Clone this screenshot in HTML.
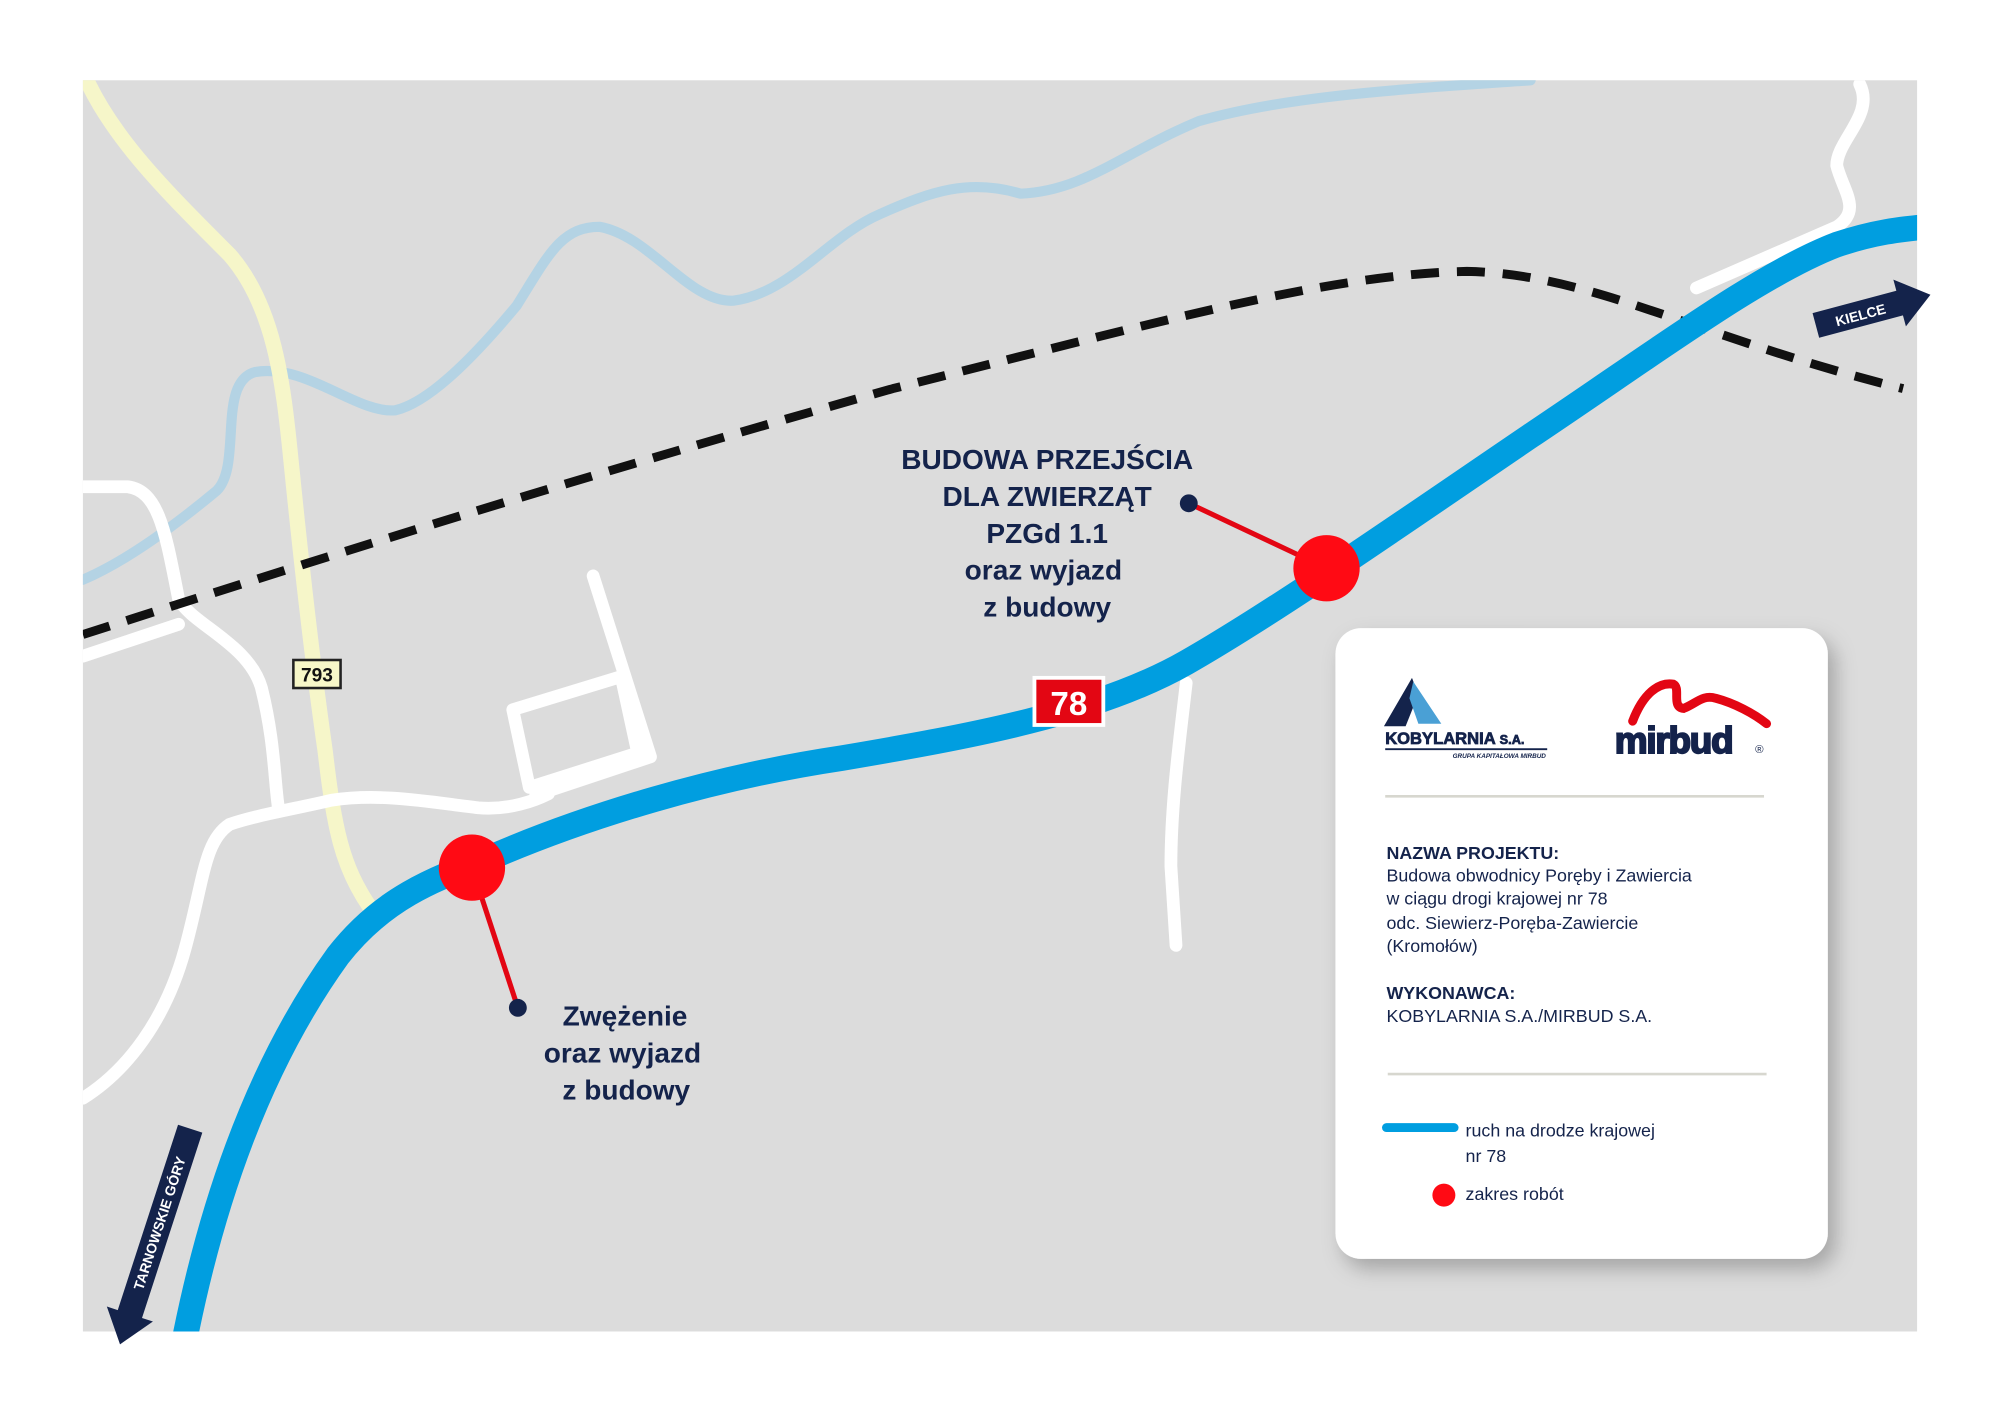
<!DOCTYPE html>
<html><head><meta charset="utf-8"><style>
html,body{margin:0;padding:0;background:#fff}
svg{display:block}
text{font-family:"Liberation Sans",sans-serif}
</style></head><body>
<svg width="2000" height="1413" viewBox="0 0 1568 1109" preserveAspectRatio="none" xmlns="http://www.w3.org/2000/svg">
<defs>
<filter id="sh" x="-10%" y="-10%" width="130%" height="130%"><feDropShadow dx="6" dy="8" stdDeviation="8" flood-color="#000" flood-opacity="0.25"/></filter>
<clipPath id="mc"><rect x="65" y="63" width="1438" height="982"/></clipPath>
</defs>
<rect width="1568" height="1109" fill="#fff"/>
<rect x="65" y="63" width="1438" height="982" fill="#dcdcdc"/>
<g clip-path="url(#mc)" fill="none" stroke-linecap="round" stroke-linejoin="round">
<path d="M65,455 C100,440 140,410 170,385 C190,365 170,300 200,292 C240,285 280,325 310,322 C340,315 380,270 405,240 C430,200 440,178 470,178 C510,185 540,238 575,236 C620,230 650,185 690,168 C730,150 760,140 800,152 C850,150 880,120 940,95 C1010,75 1100,70 1200,63" stroke="#b4d3e4" stroke-width="8"/>
<path d="M68,63 C90,110 130,150 180,200 C215,240 222,300 228,360 C235,430 245,520 255,590 C262,650 268,680 290,712" stroke="#f6f6c9" stroke-width="12"/>
<g stroke="#fff" stroke-width="10">
<path d="M65,382 L100,382 C125,385 130,420 140,470 C150,490 195,505 205,540 C215,580 215,610 218,632"/>
<path d="M65,515 L140,490"/>
<path d="M65,862 C100,840 130,800 145,745 C160,690 160,660 180,647 C200,640 230,635 260,628 C300,622 340,630 375,634 C400,636 420,628 430,623"/>
<path d="M465,452 L510,594 L420,624"/>
<path d="M402,557 L487,531 L500,591 L415,618 Z"/>
<path d="M930,536 C925,580 918,630 918,680 L922,742"/>
<path d="M1458,66 C1470,90 1440,110 1440,130 C1445,150 1460,165 1440,178 L1330,226"/>
</g>
<path d="M65,498 C200,455 400,390 700,305 C900,255 1040,215 1150,213 C1250,215 1330,265 1492,305" stroke="#111" stroke-width="7" stroke-dasharray="22 14" stroke-linecap="butt"/>
<path d="M145,1050 C165,950 200,840 265,750 C300,705 340,690 380,675 C460,640 560,610 660,595 C760,578 860,560 930,520 C1000,480 1100,410 1200,342 C1300,275 1380,215 1440,192 C1470,182 1490,180 1510,178" stroke="#009ee0" stroke-width="20"/>
</g>
<!-- arrows -->
<g transform="translate(1470,243) rotate(-15)"><polygon points="-48,-10 20,-10 20,-19 45,0 20,19 20,10 -48,10" fill="#14234b"/><text x="-12" y="5" font-size="11" font-weight="bold" fill="#fff" text-anchor="middle">KIELCE</text></g>
<g transform="translate(125,960) rotate(-72)"><polygon points="-75,-10 78,-10 78,10 -75,10 -75,19 -100,0 -75,-19" fill="#14234b"/><text x="0" y="4" font-size="11" font-weight="bold" fill="#fff" text-anchor="middle">TARNOWSKIE GÓRY</text></g>
<!-- signs -->
<rect x="230" y="518" width="37" height="22" fill="#f7f7c8" stroke="#222" stroke-width="2"/>
<text x="248.5" y="535" font-size="15" font-weight="bold" text-anchor="middle" fill="#111">793</text>
<rect x="811" y="532" width="54" height="37" fill="#e30613" stroke="#fff" stroke-width="3"/>
<text x="838" y="561" font-size="26" font-weight="bold" text-anchor="middle" fill="#fff">78</text>
<!-- markers -->
<line x1="370" y1="681" x2="406" y2="791" stroke="#e30613" stroke-width="4"/>
<line x1="1040" y1="446" x2="932" y2="395" stroke="#e30613" stroke-width="4"/>
<circle cx="370" cy="681" r="26" fill="#ff0a14"/>
<circle cx="1040" cy="446" r="26" fill="#ff0a14"/>
<circle cx="406" cy="791" r="7" fill="#14234b"/>
<circle cx="932" cy="395" r="7" fill="#14234b"/>
<g font-size="22" font-weight="bold" fill="#14234b" text-anchor="middle">
<text x="821" y="368">BUDOWA PRZEJŚCIA</text>
<text x="821" y="397">DLA ZWIERZĄT</text>
<text x="821" y="426">PZGd 1.1</text>
<text x="818" y="455">oraz wyjazd</text>
<text x="821" y="484">z budowy</text>
<text x="490" y="805">Zwężenie</text>
<text x="488" y="834">oraz wyjazd</text>
<text x="491" y="863">z budowy</text>
</g>
<!-- legend -->
<rect x="1047" y="493" width="386" height="495" rx="20" fill="#fff" filter="url(#sh)"/>
<polygon points="1085,570 1107,532 1112,545 1102,570" fill="#14234b"/>
<polygon points="1108,535 1130,568 1112,568 1105,548" fill="#4aa0d5"/>
<text x="1086" y="584" font-size="13" font-weight="bold" fill="#14234b" stroke="#14234b" stroke-width="0.6">KOBYLARNIA <tspan font-size="10">S.A.</tspan></text>
<line x1="1086" y1="588" x2="1213" y2="588" stroke="#14234b" stroke-width="1.5"/>
<text x="1212" y="595" font-size="5" font-style="italic" font-weight="bold" text-anchor="end" fill="#14234b">GRUPA KAPITAŁOWA MIRBUD</text>
<path d="M1280,566 C1288,545 1300,535 1312,537 C1318,540 1310,555 1320,556 C1330,552 1335,545 1345,548 C1360,552 1375,560 1385,568" fill="none" stroke="#e30613" stroke-width="7" stroke-linecap="round"/>
<text x="1266" y="591" font-size="29" font-weight="bold" fill="#14234b" stroke="#14234b" stroke-width="1.5" letter-spacing="-1">mirbud</text>
<text x="1376" y="591" font-size="9" fill="#14234b">®</text>
<line x1="1086" y1="625" x2="1383" y2="625" stroke="#d7d7cf" stroke-width="2"/>
<g font-size="14" fill="#14234b">
<text x="1087" y="674" font-weight="bold">NAZWA PROJEKTU:</text>
<text x="1087" y="692">Budowa obwodnicy Poręby i Zawiercia</text>
<text x="1087" y="710">w ciągu drogi krajowej nr 78</text>
<text x="1087" y="729">odc. Siewierz-Poręba-Zawiercie</text>
<text x="1087" y="747">(Kromołów)</text>
<text x="1087" y="784" font-weight="bold">WYKONAWCA:</text>
<text x="1087" y="802">KOBYLARNIA S.A./MIRBUD S.A.</text>
<text x="1149" y="892">ruch na drodze krajowej</text>
<text x="1149" y="912">nr 78</text>
<text x="1149" y="942">zakres robót</text>
</g>
<line x1="1088" y1="843" x2="1385" y2="843" stroke="#d7d7cf" stroke-width="2"/>
<line x1="1087" y1="885" x2="1140" y2="885" stroke="#009ee0" stroke-width="7" stroke-linecap="round"/>
<circle cx="1132" cy="938" r="9" fill="#ff0a14"/>
</svg>
</body></html>
